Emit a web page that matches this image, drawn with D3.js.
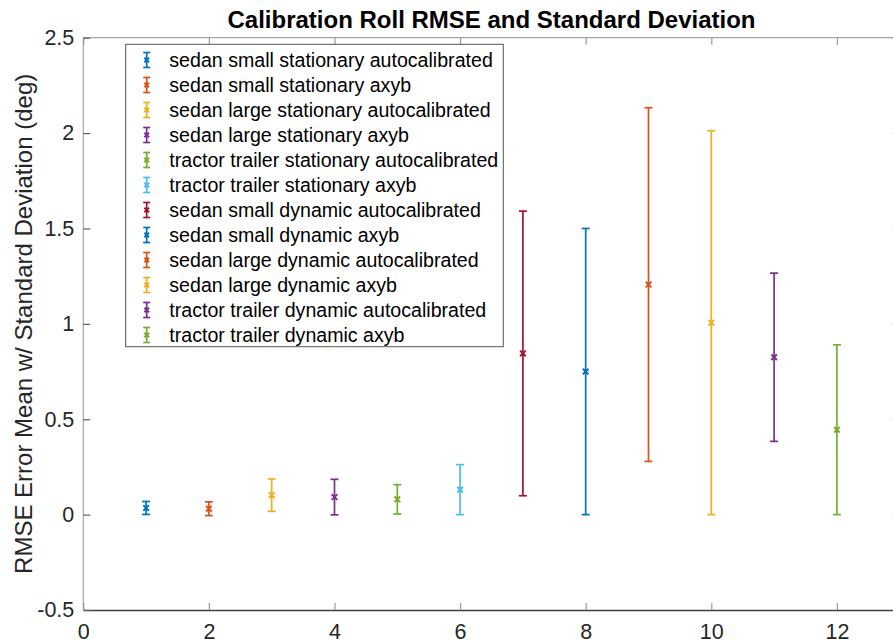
<!DOCTYPE html>
<html>
<head>
<meta charset="utf-8">
<script src="https://cdn.jsdelivr.net/npm/d3@7"></script>
<style>
  html, body { margin: 0; padding: 0; background: #fff; }
  svg { display: block; font-family: "Liberation Sans", Arial, Helvetica, sans-serif; }
</style>
</head>
<body>
<svg id="chart" width="893" height="643"></svg>
<script>
// Calibration roll RMSE: mean and standard deviation per test case
const positions = [1, 2, 3, 4, 5, 6, 7, 8, 9, 10, 11, 12];
const seriesNames = [
  "sedan small stationary autocalibrated",
  "sedan small stationary axyb",
  "sedan large stationary autocalibrated",
  "sedan large stationary axyb",
  "tractor trailer stationary autocalibrated",
  "tractor trailer stationary axyb",
  "sedan small dynamic autocalibrated",
  "sedan small dynamic axyb",
  "sedan large dynamic autocalibrated",
  "sedan large dynamic axyb",
  "tractor trailer dynamic autocalibrated",
  "tractor trailer dynamic axyb"
];
const rmseMean = [0.035, 0.031, 0.102, 0.092, 0.080, 0.131, 0.845, 0.750, 1.206, 1.006, 0.825, 0.445];
const rmseStd  = [0.034, 0.036, 0.085, 0.093, 0.077, 0.131, 0.746, 0.750, 0.927, 1.006, 0.441, 0.445];
const xTicks = [0, 2, 4, 6, 8, 10, 12];
const yTicks = [-0.5, 0, 0.5, 1, 1.5, 2, 2.5];
const palette = ["#0072BD", "#D95319", "#EDB120", "#7E2F8E", "#77AC30", "#4DBEEE", "#A2142F"];

const svg = d3.select("#chart");
const plotLeft = 83.3, plotRight = 899.7, plotTop = 37.7, plotBottom = 610;

const x = d3.scaleLinear().domain([0, 13]).range([plotLeft, plotRight]);
const y = d3.scaleLinear().domain([-0.5, 2.5]).range([plotBottom, plotTop]);
const color = i => palette[i % palette.length];

const textColor = "#262626";

// Axes frame
const frame = svg.append("g");
frame.append("line").attr("x1", plotLeft).attr("x2", plotRight).attr("y1", plotTop).attr("y2", plotTop)
  .attr("stroke", "#a6a6a6").attr("stroke-width", 1.2);
frame.append("line").attr("x1", plotLeft).attr("x2", plotLeft).attr("y1", plotTop).attr("y2", plotBottom)
  .attr("stroke", "#a6a6a6").attr("stroke-width", 1.2);
frame.append("line").attr("x1", plotRight).attr("x2", plotRight).attr("y1", plotTop).attr("y2", plotBottom)
  .attr("stroke", "#a6a6a6").attr("stroke-width", 1.2);

// Bottom axis
const xAxis = d3.axisBottom(x).tickValues(xTicks).tickFormat(d3.format("d"))
  .tickSizeInner(-7).tickSizeOuter(0).tickPadding(14);
const gx = svg.append("g").attr("transform", `translate(0,${plotBottom})`).call(xAxis);
gx.select(".domain").attr("stroke", "#404040").attr("stroke-width", 1.4);
gx.selectAll(".tick line").attr("stroke", "#9a9a9a").attr("stroke-width", 1.2);
gx.selectAll(".tick text").attr("fill", textColor).attr("font-size", 21.5);

// Top ticks
const gxTop = svg.append("g").attr("transform", `translate(0,${plotTop})`)
  .call(d3.axisTop(x).tickValues(xTicks).tickSizeInner(-7).tickSizeOuter(0).tickFormat(""));
gxTop.select(".domain").remove();
gxTop.selectAll(".tick line").attr("stroke", "#9a9a9a").attr("stroke-width", 1.2);

// Left axis
const yAxis = d3.axisLeft(y).tickValues(yTicks).tickFormat(d => String(d))
  .tickSizeInner(-7).tickSizeOuter(0).tickPadding(9);
const gy = svg.append("g").attr("transform", `translate(${plotLeft},0)`).call(yAxis);
gy.select(".domain").remove();
gy.selectAll(".tick line").attr("stroke", "#606060").attr("stroke-width", 1.2);
gy.selectAll(".tick text").attr("fill", textColor).attr("font-size", 21.5);

// Right ticks
const gyR = svg.append("g").attr("transform", `translate(${plotRight},0)`)
  .call(d3.axisRight(y).tickValues(yTicks).tickSizeInner(-7).tickSizeOuter(0).tickFormat(""));
gyR.select(".domain").remove();
gyR.selectAll(".tick line").attr("stroke", "#606060").attr("stroke-width", 1.2);

// Title
svg.append("text")
  .attr("x", (plotLeft + plotRight) / 2).attr("y", 28)
  .attr("text-anchor", "middle")
  .attr("font-weight", "bold").attr("font-size", 24)
  .attr("fill", "#000")
  .text("Calibration Roll RMSE and Standard Deviation");

// Y label
svg.append("text")
  .attr("transform", `translate(32,${(plotTop + plotBottom) / 2}) rotate(-90)`)
  .attr("text-anchor", "middle")
  .attr("font-size", 24).attr("fill", textColor)
  .text("RMSE Error Mean w/ Standard Deviation (deg)");

// Error bars
const capHalf = 4, markHalf = 2.8, lw = 1.7;
const bars = svg.append("g").selectAll("g").data(positions).join("g")
  .attr("stroke", (d, i) => color(i)).attr("stroke-width", lw).attr("fill", "none");

bars.append("line")
  .attr("x1", d => x(d)).attr("x2", d => x(d))
  .attr("y1", (d, i) => y(rmseMean[i] - rmseStd[i]))
  .attr("y2", (d, i) => y(rmseMean[i] + rmseStd[i]));
bars.append("line")
  .attr("x1", d => x(d) - capHalf).attr("x2", d => x(d) + capHalf)
  .attr("y1", (d, i) => y(rmseMean[i] + rmseStd[i]))
  .attr("y2", (d, i) => y(rmseMean[i] + rmseStd[i]));
bars.append("line")
  .attr("x1", d => x(d) - capHalf).attr("x2", d => x(d) + capHalf)
  .attr("y1", (d, i) => y(rmseMean[i] - rmseStd[i]))
  .attr("y2", (d, i) => y(rmseMean[i] - rmseStd[i]));
bars.append("path")
  .attr("stroke-width", 2)
  .attr("d", (d, i) => {
    const cx = x(d), cy = y(rmseMean[i]), h = markHalf;
    return `M${cx - h},${cy - h}L${cx + h},${cy + h}M${cx - h},${cy + h}L${cx + h},${cy - h}`;
  });

// Legend
const lgX = 125.7, lgY = 44.3, lgW = 377.6, lgH = 302.4;
const legend = svg.append("g");
legend.append("rect")
  .attr("x", lgX).attr("y", lgY).attr("width", lgW).attr("height", lgH)
  .attr("fill", "#fff").attr("stroke", "#555").attr("stroke-width", 1);

const rowY = i => 60 + i * 25;
const items = legend.selectAll("g.item").data(seriesNames).join("g").attr("class", "item");
const iconX = 146.7;
items.each(function (name, i) {
  const g = d3.select(this);
  const cy = rowY(i);
  const ic = g.append("g").attr("stroke", color(i)).attr("stroke-width", lw).attr("fill", "none");
  ic.append("line").attr("x1", iconX).attr("x2", iconX).attr("y1", cy - 7.5).attr("y2", cy + 7.5);
  ic.append("line").attr("x1", iconX - 3.5).attr("x2", iconX + 3.5).attr("y1", cy - 7.5).attr("y2", cy - 7.5);
  ic.append("line").attr("x1", iconX - 3.5).attr("x2", iconX + 3.5).attr("y1", cy + 7.5).attr("y2", cy + 7.5);
  const h = 2.3;
  ic.append("path").attr("stroke-width", 2)
    .attr("d", `M${iconX - h},${cy - h}L${iconX + h},${cy + h}M${iconX - h},${cy + h}L${iconX + h},${cy - h}`);
  g.append("text")
    .attr("x", 169.3).attr("y", cy).attr("dy", "0.35em")
    .attr("font-size", 19.6).attr("fill", "#000")
    .text(name);
});
</script>
</body>
</html>
